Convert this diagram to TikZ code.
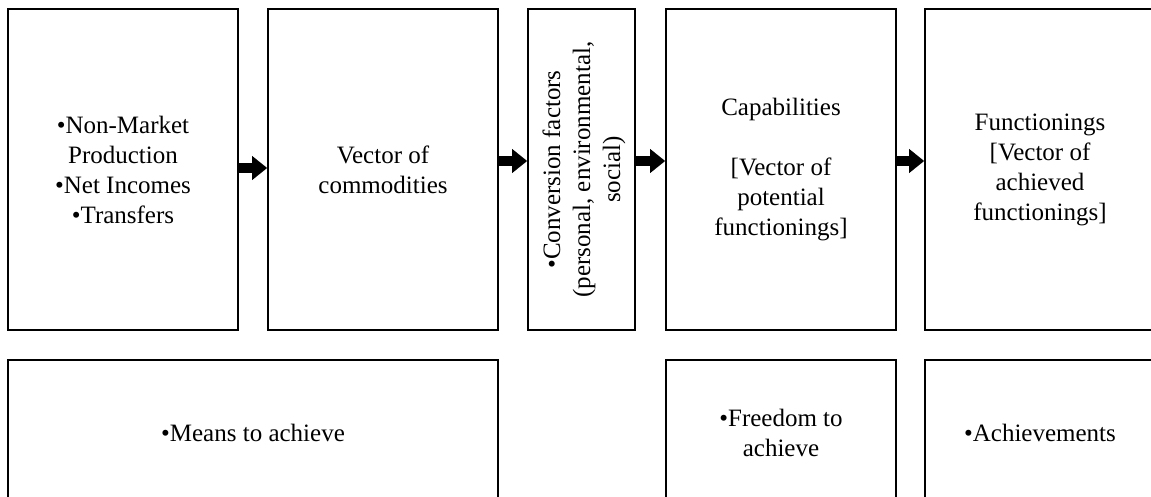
\documentclass[tikz,border=0pt]{standalone}
\usepackage{fontspec}
\setmainfont{Liberation Serif}
\usetikzlibrary{arrows.meta}
\begin{document}
\begin{tikzpicture}[x=1pt,y=1pt,
  box/.style={draw=black, line width=1.6pt, rectangle, inner sep=0pt,
    minimum width=230pt, minimum height=321pt, align=center,
    font=\fontsize{25}{30}\selectfont},
  lowbox/.style={box, minimum height=146pt},
  txt/.style={inner sep=0pt, align=center, font=\fontsize{25}{30}\selectfont},
  arr/.style={line width=10pt, -{Triangle[length=15pt,width=23pt]}}
]
\useasboundingbox (0,0) rectangle (1151,496);
\clip (0,0) rectangle (1151,496);
% top row
\node[box] (b1) at (123,326.5) {•Non-Market\\Production\\•Net Incomes\\•Transfers};
\node[box] (b2) at (383,326.5) {Vector of\\commodities};
\node[box, minimum width=107pt] (b3) at (581.5,326.5) {};
\node[txt, rotate=90] (t3) at (584,326.5) {•Conversion factors\\(personal, environmental,\\social)};
\node[box] (b4) at (781,326.5) {Capabilities\\\mbox{}\\{[Vector of}\\potential\\functionings]};
\node[box] (b5) at (1040,326.5) {Functionings\\{[Vector of}\\achieved\\functionings]};
% bottom row
\node[lowbox, minimum width=490pt] (m1) at (253,63) {•Means to achieve};
\node[lowbox] (m4) at (781,63) {•Freedom to\\achieve};
\node[lowbox] (m5) at (1040,63) {•Achievements};
% arrows
\draw[arr] ([yshift=1.5pt]b1.east) -- ([yshift=1.5pt]b2.west);
\draw[arr] ([yshift=8.5pt]b2.east) -- ([yshift=8.5pt]b3.west);
\draw[arr] ([yshift=8.5pt]b3.east) -- ([yshift=8.5pt]b4.west);
\draw[arr] ([yshift=8.5pt]b4.east) -- ([yshift=8.5pt]b5.west);
\end{tikzpicture}
\end{document}
